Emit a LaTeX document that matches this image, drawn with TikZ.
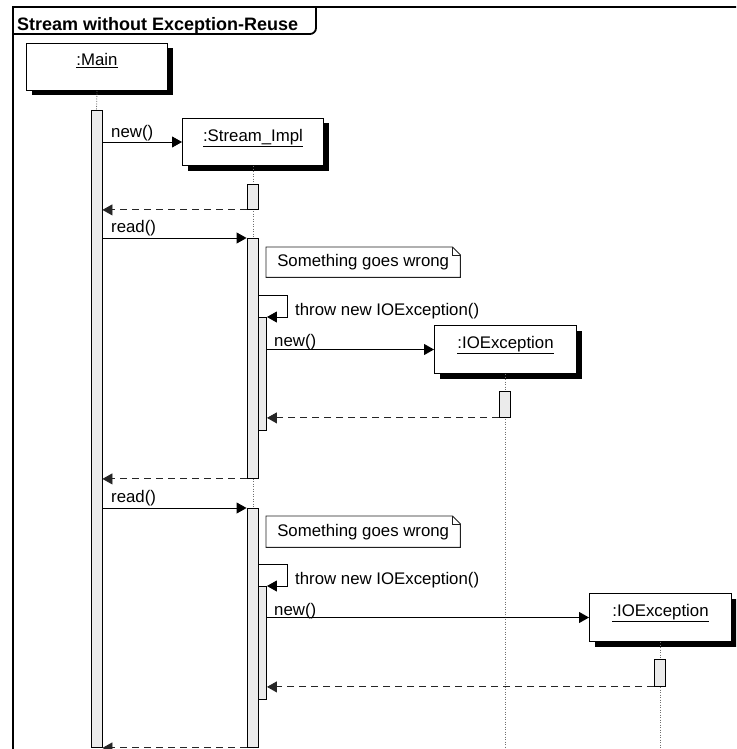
\documentclass[tikz,border=0pt]{standalone}
\usepackage{fontspec}
\setmainfont{Liberation Sans}
\usetikzlibrary{arrows.meta,shadows,calc}
\definecolor{barfill}{HTML}{EBEBEB}
\definecolor{lifegray}{HTML}{707070}
\definecolor{notegray}{HTML}{202020}
\begin{document}
\begin{tikzpicture}[x=1pt,y=-1pt,
  font=\fontsize{16.8}{19}\selectfont,
  frame/.style={line width=1.8pt, black},
  objbox/.style={draw, line width=1pt, fill=white, inner sep=0, anchor=north west,
    minimum width=141pt, minimum height=47pt,
    drop shadow={shadow xshift=5pt, shadow yshift=-5pt, fill=black, opacity=1}},
  objlabel/.style={anchor=base, inner sep=0},
  bar/.style={draw, line width=0.9pt, fill=barfill, inner sep=0, anchor=north, minimum width=11pt},
  nestbar/.style={bar, minimum width=8.5pt},
  msg/.style={line width=0.9pt, -{Triangle[length=10pt,width=11pt]}},
  ret/.style={msg, black!85, dash pattern=on 7pt off 5pt},
  lifeline/.style={lifegray, line width=0.8pt, dash pattern=on 1pt off 1.5pt},
  lbl/.style={anchor=base west, inner sep=0},
  notebox/.style={anchor=north west, minimum width=194pt, minimum height=30pt, inner sep=0},
  noteline/.style={notegray, line width=0.9pt}
]
\useasboundingbox (0,0) rectangle (736,749);
\clip (0,0) rectangle (736,749);
\fill[white] (0,0) rectangle (736,749);

% frame and title tab
\draw[frame] (13,752) -- (13,7) -- (740,7);
\draw[frame] (316,7) [rounded corners=6pt] -- (316,34) -- (13,34);
\node[anchor=base west, inner sep=0, font=\bfseries\fontsize{18}{20}\selectfont] (title) at (17,31) {Stream without Exception-Reuse};

\coordinate (bottom) at (0,760);

% object boxes
\node[objbox] (main) at (26,43) {};
\node[objlabel] (mainlbl) at ($(main.north)+(0,23)$) {\underline{:Main}};
\node[objbox] (stream) at (182,118) {};
\node[objlabel] (streamlbl) at ($(stream.north)+(0,23)$) {\underline{:Stream\_Impl}};
\node[objbox, minimum width=142pt, minimum height=48pt] (exc1) at (434,325) {};
\node[objlabel] (exc1lbl) at ($(exc1.north)+(0,23)$) {\underline{:IOException}};
\node[objbox, minimum width=142pt, minimum height=48pt] (exc2) at (589,593) {};
\node[objlabel] (exc2lbl) at ($(exc2.north)+(0,23)$) {\underline{:IOException}};

% activation bars (positions)
\coordinate (mainbartop) at (96.5,110);
\coordinate (sbar0top) at (252.5,184);
\coordinate (sbar1top) at (252.5,238);
\coordinate (sbar2top) at (252.5,508);
\coordinate (ebar1top) at (505,391);
\coordinate (ebar2top) at (660,659);

% lifelines
\draw[lifeline] (main.south) -- (mainbartop);
\draw[lifeline] (stream.south) -- (bottom -| stream.south);
\draw[lifeline] (exc1.south) -- (bottom -| exc1.south);
\draw[lifeline] (exc2.south) -- (bottom -| exc2.south);

% bars
\node[bar, minimum height=637pt] (mainbar) at (mainbartop) {};
\node[bar, minimum height=25pt] (sbar0) at (sbar0top) {};
\node[bar, minimum height=240pt] (sbar1) at (sbar1top) {};
\node[nestbar, minimum height=113pt] (nest1) at (262.25,317) {};
\node[bar, minimum height=26pt] (ebar1) at (ebar1top) {};
\node[bar, minimum height=239pt] (sbar2) at (sbar2top) {};
\node[nestbar, minimum height=113pt] (nest2) at (262.25,586) {};
\node[bar, minimum height=27pt] (ebar2) at (ebar2top) {};

% notes
\node[notebox] (note1) at (266,247) {Something goes wrong};
\draw[noteline] (note1.north west) -- ($(note1.north east)+(-8,0)$) -- ($(note1.north east)+(0,8)$) -- (note1.south east) -- (note1.south west) -- cycle;
\draw[noteline] ($(note1.north east)+(-8,0)$) -- ($(note1.north east)+(-8,8)$) -- ($(note1.north east)+(0,8)$);
\node[notebox, minimum height=31pt] (note2) at (266,516) {Something goes wrong};
\draw[noteline] (note2.north west) -- ($(note2.north east)+(-8,0)$) -- ($(note2.north east)+(0,8)$) -- (note2.south east) -- (note2.south west) -- cycle;
\draw[noteline] ($(note2.north east)+(-8,0)$) -- ($(note2.north east)+(-8,8)$) -- ($(note2.north east)+(0,8)$);

% messages
\draw[msg] (stream.west -| mainbar.east) -- (stream.west);
\node[lbl] (l1) at (111,138) {new()};
\draw[ret] (sbar0.south west) -- (sbar0.south west -| mainbar.east);
\draw[msg] (sbar1.north west -| mainbar.east) -- (sbar1.north west);
\node[lbl] (l2) at (111,232) {read()};

\coordinate (sc1) at (287,295);
\draw[msg] (sbar1.east |- sc1) -- (sc1) |- (nest1.north east);
\node[lbl] (l3) at (295,315) {throw new IOException()};
\draw[msg] (exc1.west -| nest1.east) -- (exc1.west);
\node[lbl] (l4) at (274,346) {new()};
\draw[ret] (ebar1.south west) -- (ebar1.south west -| nest1.east);
\draw[ret] (sbar1.south west) -- (sbar1.south west -| mainbar.east);

\draw[msg] (sbar2.north west -| mainbar.east) -- (sbar2.north west);
\node[lbl] (l5) at (111,502) {read()};
\coordinate (sc2) at (287,564);
\draw[msg] (sbar2.east |- sc2) -- (sc2) |- (nest2.north east);
\node[lbl] (l6) at (295,584) {throw new IOException()};
\draw[msg] (exc2.west -| nest2.east) -- (exc2.west);
\node[lbl] (l7) at (274,615) {new()};
\draw[ret] (ebar2.south west) -- (ebar2.south west -| nest2.east);
\draw[ret] (sbar2.south west) -- (sbar2.south west -| mainbar.east);
\end{tikzpicture}
\end{document}
